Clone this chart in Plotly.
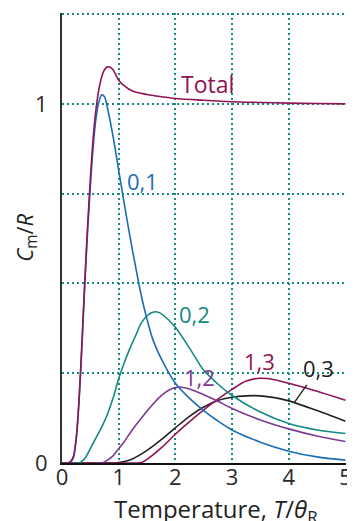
import plotly.graph_objects as go

# ---- data ----
x01 = [0, 0.1, 0.15, 0.2, 0.25, 0.3, 0.35, 0.4, 0.45, 0.5, 0.55, 0.6, 0.65, 0.7, 0.75, 0.8, 0.9, 1.0, 1.1, 1.2, 1.3, 1.4, 1.5, 1.6, 1.8, 2.0, 2.25, 2.5, 2.75, 3.0, 3.5, 4.0, 4.5, 5.0]
y01 = [0, 0.0, 0.003, 0.015, 0.065, 0.17, 0.32, 0.49, 0.64, 0.77, 0.88, 0.96, 1.005, 1.025, 1.02, 0.99, 0.91, 0.815, 0.72, 0.63, 0.545, 0.465, 0.4, 0.345, 0.275, 0.222, 0.18, 0.146, 0.117, 0.092, 0.058, 0.033, 0.017, 0.008]

x02 = [0, 0.3, 0.35, 0.4, 0.5, 0.6, 0.7, 0.8, 0.9, 1.0, 1.1, 1.2, 1.3, 1.4, 1.5, 1.6, 1.7, 1.8, 2.0, 2.25, 2.5, 2.75, 3.0, 3.5, 4.0, 4.5, 5.0]
y02 = [0, 0, 0.005, 0.012, 0.04, 0.07, 0.1, 0.135, 0.18, 0.235, 0.28, 0.32, 0.355, 0.39, 0.41, 0.42, 0.42, 0.41, 0.378, 0.32, 0.258, 0.22, 0.188, 0.142, 0.11, 0.092, 0.082]

x12 = [0, 0.7, 0.8, 0.9, 1.0, 1.1, 1.2, 1.3, 1.4, 1.5, 1.6, 1.7, 1.8, 1.9, 2.0, 2.1, 2.25, 2.5, 2.75, 3.0, 3.5, 4.0, 4.5, 5.0]
y12 = [0, 0, 0.008, 0.02, 0.04, 0.06, 0.083, 0.105, 0.125, 0.145, 0.163, 0.18, 0.194, 0.204, 0.21, 0.211, 0.206, 0.19, 0.172, 0.152, 0.12, 0.095, 0.075, 0.06]

x03 = [0, 0.9, 1.0, 1.1, 1.25, 1.5, 1.75, 2.0, 2.25, 2.5, 2.75, 3.0, 3.25, 3.5, 3.75, 4.0, 4.5, 5.0]
y03 = [0, 0, 0.001, 0.004, 0.012, 0.035, 0.065, 0.098, 0.13, 0.156, 0.174, 0.183, 0.187, 0.187, 0.182, 0.173, 0.146, 0.116]

x13 = [0, 1.3, 1.4, 1.5, 1.75, 2.0, 2.25, 2.5, 2.75, 3.0, 3.25, 3.5, 3.75, 4.0, 4.5, 5.0]
y13 = [0, 0, 0.001, 0.01, 0.042, 0.08, 0.115, 0.148, 0.178, 0.205, 0.228, 0.236, 0.232, 0.222, 0.2, 0.175]

xtot = [0, 0.1, 0.15, 0.2, 0.25, 0.3, 0.35, 0.4, 0.45, 0.5, 0.55, 0.6, 0.65, 0.7, 0.75, 0.8, 0.85, 0.9, 1.0, 1.1, 1.25, 1.5, 1.75, 2.0, 2.5, 3.0, 3.5, 4.0, 4.5, 5.0]
ytot = [0, 0.0, 0.004, 0.017, 0.068, 0.175, 0.33, 0.5, 0.655, 0.79, 0.905, 0.985, 1.04, 1.075, 1.095, 1.103, 1.102, 1.095, 1.066, 1.05, 1.035, 1.026, 1.02, 1.015, 1.01, 1.006, 1.004, 1.002, 1.001, 1.0]

x_ticks = [0, 1, 2, 3, 4, 5]
y_ticks = [0, 0.25, 0.5, 0.75, 1, 1.25]
y_ticktext = ["0", "", "", "", "1", ""]

BLUE = "#1b6db5"
TEAL = "#128a82"
PURPLE = "#7d3a95"
MAGENTA = "#8e1455"
BLACK = "#222222"
GRID = "#1a8a86"
FONT = "Open Sans"

fig = go.Figure()
def add(x, y, c):
    fig.add_trace(go.Scatter(x=x, y=y, mode="lines", line=dict(color=c, width=1.6, shape="spline", smoothing=0.8),
                             showlegend=False, hoverinfo="skip"))

add(x03, y03, BLACK)
add(x13, y13, MAGENTA)
add(x12, y12, PURPLE)
add(x02, y02, TEAL)
add(x01, y01, BLUE)
add(xtot, ytot, MAGENTA)

labels = [
    ("Total", 2.56, 1.055, MAGENTA, 23),
    ("0,1", 1.42, 0.785, BLUE, 22),
    ("0,2", 2.33, 0.416, TEAL, 22),
    ("1,2", 2.43, 0.24, PURPLE, 22),
    ("1,3", 3.49, 0.285, MAGENTA, 22),
]
for t, x, y, c, s in labels:
    fig.add_annotation(x=x, y=y, text=t, showarrow=False, font=dict(color=c, size=s, family=FONT))

fig.add_annotation(x=4.1, y=0.169, text="0,3", showarrow=True, arrowhead=0, arrowwidth=1.4,
                   arrowcolor=BLACK, ax=24, ay=-34, font=dict(color=BLACK, size=22, family=FONT))

fig.add_annotation(xref="paper", yref="paper", x=0.5415, y=-0.105, xanchor="center", yanchor="middle",
                   text="Temperature, <i>T</i>/<i>θ</i><sub>R</sub>", showarrow=False,
                   font=dict(color="#222", size=24, family=FONT))

fig.add_annotation(xref="paper", yref="paper", x=-0.128, y=0.50, xanchor="center", yanchor="middle",
                   textangle=-90, text="<i>C</i><sub>m</sub>/<i>R</i>", showarrow=False,
                   font=dict(color="#222", size=22, family=FONT))

fig.update_layout(
    width=347, height=513,
    margin=dict(l=54, r=3, t=5, b=58),
    plot_bgcolor="white", paper_bgcolor="white",
    font=dict(family=FONT, size=22, color="#2a2a2a"),
    xaxis=dict(range=[0, 5.01], tickvals=x_ticks, showgrid=True, gridcolor=GRID, gridwidth=2,
               griddash="2px,3px", zeroline=False, showline=True, linecolor="#111", linewidth=2,
               ticks="", ticklen=0, ticklabelstandoff=-6, ticklabeloverflow="allow"),
    yaxis=dict(range=[0, 1.253], tickvals=y_ticks, ticktext=y_ticktext, showgrid=True, gridcolor=GRID,
               gridwidth=2, griddash="2px,3px", zeroline=False, showline=True, linecolor="#333",
               linewidth=2, ticks="", ticklen=0, ticklabelstandoff=8, ticklabeloverflow="allow"),
)

fig.write_html("out.html")
